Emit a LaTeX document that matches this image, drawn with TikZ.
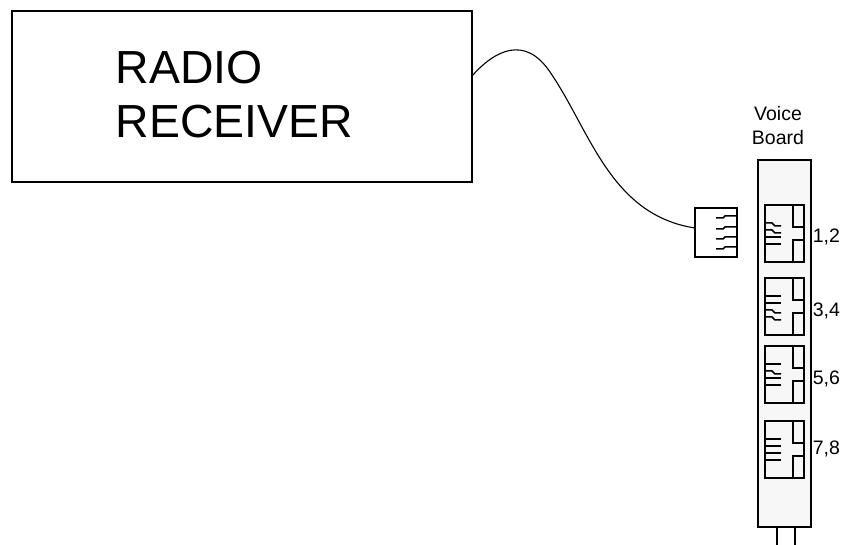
\documentclass[tikz,border=0pt]{standalone}
\usepackage{fontspec}
\setmainfont{Liberation Sans}
\begin{document}
\begin{tikzpicture}[
        x=1pt,y=-1pt,
        line width=1.6pt,
        boxsty/.style={
            draw,rectangle,anchor=north west,
            inner sep=0pt,
        },
        lblsty/.style={inner sep=0pt,font=\fontsize{19.5}{24}\selectfont},
        pinsty/.style={line width=1.5pt},
    ]
    \useasboundingbox (0,0) rectangle (847,545);

    \node[boxsty,minimum width=460pt,minimum height=171pt] at (11.3,10.3) (radio) {};
    \node[align=left,anchor=west,inner sep=0pt,font=\fontsize{46.4}{54}\selectfont] at (115,95) (radiotxt) {RADIO\\RECEIVER};

    \node[boxsty,minimum width=42pt,minimum height=49pt] at (694.3,207.3) (plug) {};
    \foreach \p in {216,227,237,247}{
        \draw[pinsty] (737,\p) -- (725,\p) -- (723,\p+2) -- (716,\p+2);
    }
    \coordinate (wirea) at (472,76);
    \coordinate (wireb) at (695,228);
    \draw[line width=1.1pt] (wirea) .. controls (495,50) and (525,35) .. (550,72)
        .. controls (590,130) and (610,215) .. (wireb);

    \node[boxsty,fill=black!3,minimum width=53pt,minimum height=367pt] at (757.3,159.3) (board) {};
    \node[lblsty,align=center] at (778,126) (boardtxt) {Voice\\Board};

    \foreach \n/\oy/\ly/\sa/\sb/\sc/\sd/\lab in {1/205/236.5/3/3/0/0/{1,2},2/278/310.5/0/0/3/3/{3,4},3/346/378.5/0/3/0/0/{5,6},4/421/448.5/0/0/0/0/{7,8}}{
        \node[boxsty,minimum width=39pt,minimum height=57pt] at (764.3,\oy-0.7) (jack\n) {};
        \draw (793,\oy) -- (793,\oy+22) -- (804,\oy+22);
        \draw (793,\oy+57) -- (793,\oy+35) -- (804,\oy+35);
        \foreach \p/\s in {18/\sa,25/\sb,32/\sc,39/\sd}{
            \draw[pinsty] (765,\oy+\p) -- (772,\oy+\p) -- (775,\oy+\p+\s) -- (781,\oy+\p+\s);
        }
        \node[lblsty,anchor=west] at (812,\ly) (lbl\n) {\lab};
    }

    \draw (777,527) -- (777,545);
    \draw (795,527) -- (795,545);
\end{tikzpicture}
\end{document}
